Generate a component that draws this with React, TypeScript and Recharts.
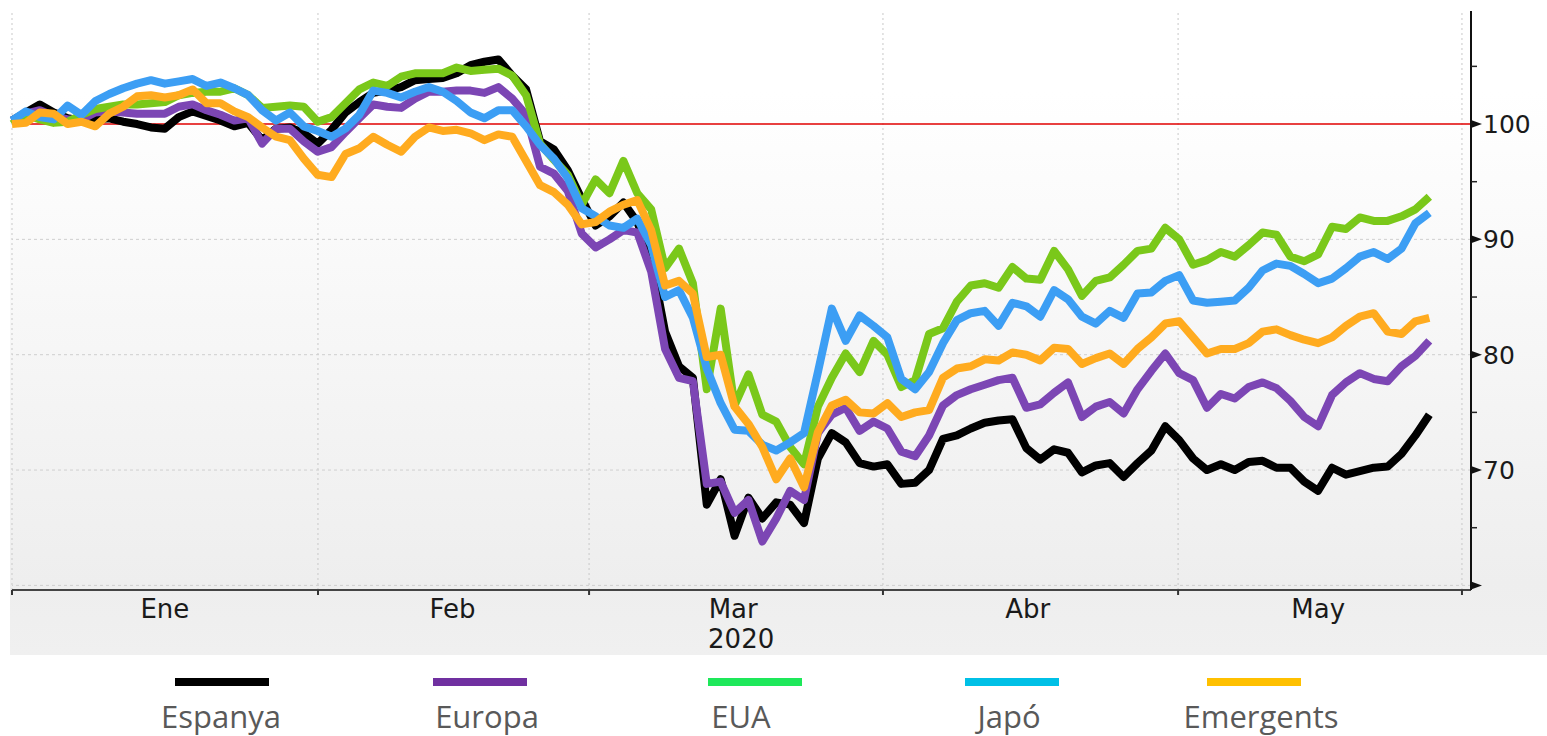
import React from 'react'
import {
  LineChart,
  Line,
  XAxis,
  YAxis,
  ReferenceLine,
} from 'recharts'

// trading-day index, Jan 2 2020 = 0
const DAYS = Array.from({ length: 103 }, (_, i) => i)

const ESPANYA = [
  100.3, 101.0, 101.7, 101.0, 100.5, 100.3, 100.4, 100.5, 100.2, 100.0,
  99.7, 99.6, 100.6, 101.1, 100.7, 100.3, 99.8, 100.1, 98.6, 99.6,
  99.7, 99.2, 98.3, 99.5, 101.0, 101.9, 102.7, 102.9, 103.2, 103.8,
  103.9, 104.0, 104.4, 105.1, 105.4, 105.6, 104.2, 103.0, 98.5, 97.8,
  96.0, 93.5, 91.2, 92.0, 93.2, 91.5, 88.3, 82.0, 79.0, 78.0,
  67.0, 69.2, 64.3, 67.6, 65.8, 67.2, 67.0, 65.4, 71.0, 73.2,
  72.4, 70.6, 70.3, 70.5, 68.8, 68.9, 70.0, 72.7, 73.0, 73.6,
  74.1, 74.3, 74.4, 71.9, 70.9, 71.8, 71.5, 69.8, 70.4, 70.6,
  69.4, 70.6, 71.7, 73.8, 72.6, 71.0, 70.0, 70.5, 70.0, 70.7,
  70.8, 70.2, 70.2, 69.0, 68.2, 70.2, 69.6, 69.9, 70.2, 70.3,
  71.4, 73.0, 74.8,
]

const EUROPA = [
  100.3, 100.9, 101.2, 100.7, 100.4, 100.4, 101.0, 101.1, 101.0, 100.9,
  100.9, 100.9, 101.5, 101.7, 101.2, 100.8, 100.3, 100.5, 98.3, 99.6,
  99.6, 98.5, 97.6, 98.0, 99.3, 100.5, 101.7, 101.5, 101.4, 102.2,
  102.8, 102.8, 102.9, 102.9, 102.7, 103.2, 102.2, 100.8, 96.3, 95.7,
  94.2, 90.5, 89.3, 90.0, 90.8, 90.6, 87.2, 80.5, 78.0, 77.7,
  68.8, 69.0, 66.3, 67.4, 63.8, 65.8, 68.2, 67.4, 73.2, 74.8,
  75.4, 73.4, 74.2, 73.6, 71.6, 71.2, 73.0, 75.6, 76.5, 77.0,
  77.4, 77.8, 78.0, 75.4, 75.7, 76.7, 77.6, 74.6, 75.5, 75.9,
  74.9, 77.0, 78.6, 80.1, 78.4, 77.8, 75.4, 76.6, 76.2, 77.2,
  77.6, 77.1, 76.0, 74.6, 73.8, 76.5, 77.6, 78.4, 77.9, 77.7,
  79.0, 79.9, 81.2,
]

const EUA = [
  100.0, 100.8, 100.4, 100.1, 100.2, 100.8, 101.3, 101.5, 101.7, 101.7,
  101.8, 101.9, 102.5, 102.7, 102.8, 102.8, 103.1, 102.5, 101.4, 101.5,
  101.6, 101.5, 100.2, 100.6, 101.8, 103.0, 103.6, 103.3, 104.1, 104.4,
  104.4, 104.4, 104.9, 104.6, 104.7, 104.8, 104.2, 102.5, 98.3, 96.9,
  95.6, 93.0, 95.2, 94.0, 96.8, 94.0, 92.6, 87.5, 89.2, 86.2,
  77.0, 84.0, 75.6, 78.3, 74.8, 74.2, 72.0, 70.5, 75.5, 78.0,
  80.1, 78.5, 81.2, 80.0, 77.2, 77.8, 81.8, 82.3, 84.6, 86.0,
  86.2, 85.8, 87.6, 86.6, 86.5, 89.0, 87.4, 85.1, 86.4, 86.7,
  87.8, 89.0, 89.2, 91.0, 90.0, 87.8, 88.2, 88.9, 88.5, 89.5,
  90.6, 90.4, 88.5, 88.1, 88.7, 91.1, 90.9, 91.9, 91.6, 91.6,
  92.0, 92.6, 93.7,
]

const JAPO = [
  100.3, 101.1, 100.6, 100.4, 101.6, 100.8, 102.0, 102.6, 103.1, 103.5,
  103.8, 103.5, 103.7, 103.9, 103.3, 103.6, 103.1, 102.5, 101.2, 100.3,
  101.0, 99.8, 99.4, 98.9, 99.6, 100.8, 102.9, 102.7, 102.3, 102.8,
  103.2, 102.8, 102.0, 101.0, 100.5, 101.2, 101.2, 99.8, 98.2, 97.0,
  95.3, 92.7, 92.0, 91.2, 91.0, 91.8, 89.5, 85.0, 85.6, 83.2,
  78.8, 75.8, 73.5, 73.4, 72.2, 71.7, 72.4, 73.2, 78.5, 84.0,
  81.2, 83.4, 82.5, 81.5, 77.9, 77.0, 78.5, 81.0, 83.0, 83.6,
  83.8, 82.5, 84.5, 84.2, 83.3, 85.6, 84.8, 83.3, 82.7, 83.8,
  83.2, 85.3, 85.4, 86.4, 86.9, 84.7, 84.5, 84.6, 84.7, 85.8,
  87.3, 87.9, 87.7, 87.0, 86.2, 86.6, 87.5, 88.5, 88.9, 88.3,
  89.2, 91.4, 92.3,
]

const EMERGENTS = [
  100.0, 100.1, 101.0, 100.9, 100.0, 100.2, 99.8, 100.9, 101.5, 102.4,
  102.5, 102.3, 102.5, 103.0, 101.8, 101.8, 101.1, 100.6, 99.7, 98.9,
  98.6, 97.0, 95.6, 95.4, 97.4, 97.9, 98.9, 98.2, 97.6, 98.9,
  99.7, 99.4, 99.5, 99.2, 98.6, 99.1, 98.9, 96.8, 94.7, 94.1,
  93.0, 91.3, 91.5, 92.4, 93.0, 93.4, 90.8, 86.0, 86.4, 85.3,
  79.8, 80.0, 75.5, 74.0, 72.0, 69.2, 71.0, 68.5, 73.3, 75.6,
  76.1, 75.0, 74.9, 75.8, 74.6, 75.0, 75.2, 78.0, 78.8, 79.0,
  79.6, 79.5, 80.2, 80.0, 79.5, 80.6, 80.5, 79.2, 79.7, 80.1,
  79.2, 80.5, 81.5, 82.7, 82.9, 81.5, 80.1, 80.5, 80.5, 81.0,
  82.0, 82.2, 81.7, 81.3, 81.0, 81.5, 82.5, 83.3, 83.6, 82.0,
  81.8, 82.9, 83.2,
]

// month boundaries (in trading-day units) and label positions
const MONTH_STARTS = [0, 22.02, 41.53, 62.68, 83.92, 104.35]
const MONTH_MIDS = [11.0, 31.7, 51.9, 73.1, 94.0]
const MONTH_LABELS = ['Ene', 'Feb', 'Mar', 'Abr', 'May']
const YEAR_LABEL = '2020'
const Y_TICKS = [60, 65, 70, 75, 80, 85, 90, 95, 100, 105]
const GRID_Y = [60, 70, 80, 90]

const SERIES = [
  { key: 'espanya', name: 'Espanya', values: ESPANYA, line: '#000000', legend: '#000000' },
  { key: 'europa', name: 'Europa', values: EUROPA, line: '#7c46b4', legend: '#7030a0' },
  { key: 'eua', name: 'EUA', values: EUA, line: '#7ac81a', legend: '#1ee85a' },
  { key: 'japo', name: 'Japó', values: JAPO, line: '#3c9ef4', legend: '#00c0e6' },
  { key: 'emergents', name: 'Emergents', values: EMERGENTS, line: '#ffab1f', legend: '#ffc000' },
]

const data = DAYS.map((d, i) => {
  const row: Record<string, number> = { d }
  SERIES.forEach((s) => {
    row[s.key] = s.values[i]
  })
  return row
})

const AXIS_FONT = '"DejaVu Sans", Verdana, sans-serif'

function YTick(props: any) {
  const { x, y, payload } = props
  const v = payload.value
  if (v % 10 !== 0) {
    return <line x1={x} y1={y} x2={x + 6} y2={y} stroke="#222" strokeWidth={1.5} />
  }
  return (
    <g>
      <path d={`M${x},${y - 4} L${x + 11},${y} L${x},${y + 4} Z`} fill="#111" />
      {v !== 60 && (
        <text
          x={x + 12}
          y={y + 9}
          fontSize={25}
          fontFamily={AXIS_FONT}
          fill="#1a1a1a"
        >
          {v}
        </text>
      )}
    </g>
  )
}

function XTick(props: any) {
  const { x, y, payload } = props
  const v = payload.value
  const mid = MONTH_MIDS.indexOf(v)
  if (mid < 0) {
    return <line x1={x} y1={y} x2={x} y2={y + 5} stroke="#333" strokeWidth={2} />
  }
  return (
    <g>
      <text
        x={x}
        y={y + 28}
        textAnchor="middle"
        fontSize={26}
        fontFamily={AXIS_FONT}
        fill="#1a1a1a"
      >
        {MONTH_LABELS[mid]}
      </text>
      {MONTH_LABELS[mid] === 'Mar' && (
        <text
          x={x + 8}
          y={y + 58}
          textAnchor="middle"
          fontSize={26}
          fontFamily={AXIS_FONT}
          fill="#1a1a1a"
        >
          {YEAR_LABEL}
        </text>
      )}
    </g>
  )
}

const LEGEND_POS = [
  { swatch: 175, text: 221 },
  { swatch: 433, text: 487 },
  { swatch: 708, text: 741 },
  { swatch: 965, text: 1009 },
  { swatch: 1207, text: 1261 },
]

export default function App() {
  return (
    <div
      style={{
        position: 'absolute',
        left: 0,
        top: 0,
        width: 1547,
        height: 736,
        background: '#ffffff',
        overflow: 'hidden',
      }}
    >
      <div
        style={{
          position: 'absolute',
          left: 10,
          top: 0,
          width: 1537,
          height: 655,
          background:
            'linear-gradient(to bottom, #ffffff 0%, #ffffff 14%, #f4f4f4 62%, #eeeeee 89%, #f0f0f0 100%)',
        }}
      />
      <div style={{ position: 'absolute', left: 0, top: 0 }}>
        <LineChart
          width={1547}
          height={655}
          data={data}
          margin={{ top: 11, right: 0, left: 12, bottom: 0 }}
        >
          <XAxis
            dataKey="d"
            type="number"
            domain={[0, 105]}
            ticks={[...MONTH_STARTS, ...MONTH_MIDS].sort((a, b) => a - b)}
            interval={0}
            height={65}
            tickSize={0}
            tickMargin={0}
            tickLine={false}
            axisLine={{ stroke: '#444', strokeWidth: 2 }}
            tick={<XTick />}
          />
          <YAxis
            orientation="right"
            type="number"
            domain={[59.6, 109.8]}
            ticks={Y_TICKS}
            interval={0}
            width={76}
            tickSize={0}
            tickMargin={0}
            tickLine={false}
            axisLine={{ stroke: '#111', strokeWidth: 2 }}
            tick={<YTick />}
          />
          {MONTH_STARTS.map((m) => (
            <ReferenceLine
              key={`v${m}`}
              x={m}
              stroke="#c9c9c9"
              strokeDasharray="2 3"
              strokeWidth={1}
            />
          ))}
          {GRID_Y.map((g) => (
            <ReferenceLine
              key={`h${g}`}
              y={g}
              stroke="#cfcfcf"
              strokeDasharray="3 3"
              strokeWidth={1}
            />
          ))}
          <ReferenceLine y={100} stroke="#e00000" strokeWidth={1.5} />
          {SERIES.map((s) => (
            <Line
              key={s.key}
              type="linear"
              dataKey={s.key}
              name={s.name}
              stroke={s.line}
              strokeWidth={8}
              strokeLinejoin="round"
              dot={false}
              activeDot={false}
              isAnimationActive={false}
            />
          ))}
        </LineChart>
      </div>
      {SERIES.map((s, i) => (
        <React.Fragment key={s.key}>
          <div
            style={{
              position: 'absolute',
              left: LEGEND_POS[i].swatch,
              top: 678,
              width: 94,
              height: 8,
              background: s.legend,
            }}
          />
          <div
            style={{
              position: 'absolute',
              left: LEGEND_POS[i].text - 120,
              width: 240,
              top: 695,
              textAlign: 'center',
              fontFamily: '"Open Sans", "Noto Sans", sans-serif',
              fontSize: 31,
              lineHeight: '42px',
              color: '#595959',
            }}
          >
            {s.name}
          </div>
        </React.Fragment>
      ))}
    </div>
  )
}
